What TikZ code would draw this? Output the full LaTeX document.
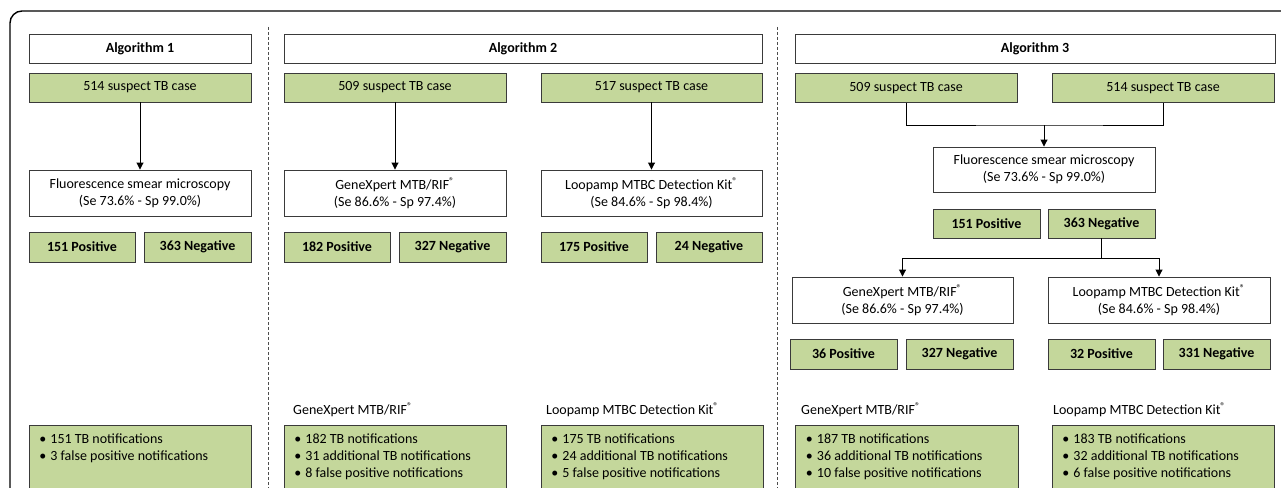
\documentclass[tikz,border=0pt]{standalone}
\usepackage{fontspec}
\setmainfont{Carlito}
\usetikzlibrary{arrows.meta}

\definecolor{boxgreen}{HTML}{C4D79B}
\definecolor{boxline}{HTML}{3A3A3A}
\newcommand{\regmark}{\textsuperscript{®}}
\newcommand{\bul}{\makebox[11pt][l]{•}}
\newcommand{\resultlist}[1]{\parbox[t][70pt][t]{202pt}{#1}}

\begin{document}
\begin{tikzpicture}[x=1pt, y=-1pt, font=\fontsize{14}{17}\selectfont]
    \tikzstyle{title box} = [rectangle, draw=boxline, line width=0.9pt, fill=white, minimum height=29pt, inner sep=0pt, font=\fontsize{14}{17}\selectfont\bfseries]
    \tikzstyle{case box} = [title box, fill=boxgreen, font=\fontsize{14}{17}\selectfont]
    \tikzstyle{test box} = [title box, minimum height=46pt, align=center, font=\fontsize{14}{17}\selectfont]
    \tikzstyle{count box} = [title box, fill=boxgreen, minimum height=30pt]
    \tikzstyle{result box} = [rectangle, draw=boxline, line width=0.9pt, fill=boxgreen, anchor=north west, inner xsep=10pt, inner ysep=8pt, align=left]
    \tikzstyle{list label} = [inner sep=0pt, anchor=base west]
    \tikzstyle{plain line} = [draw=black, line width=0.9pt]
    \tikzstyle{arrow line} = [plain line, -{Triangle[length=7pt,width=7pt]}]
    \tikzstyle{separator} = [draw=black!70, line width=0.9pt, dash pattern=on 3pt off 2pt]
\useasboundingbox (0,0) rectangle (1281,487);
\clip (0,0) rectangle (1281,487);
\draw[line width=1.4pt, rounded corners=12pt] (10,520) -- (10,11) -- (1320,11);
\draw[separator] (268,27) -- (268,500);
\draw[separator] (777,27) -- (777,500);
% Algorithm 1
\node[title box, minimum width=222pt] (title1) at (140,48.5) {Algorithm 1};
\node[case box, minimum width=222pt] (case1) at (140,87.5) {514 suspect TB case};
\node[test box, minimum width=222pt] (test1) at (140,193) {Fluorescence smear microscopy\\(Se 73.6\% - Sp 99.0\%)};
\node[count box, minimum width=106pt] (pos1) at (82,247) {151 Positive};
\node[count box, minimum width=107pt] (neg1) at (197.5,247) {363 Negative};
\node[result box] (res1) at (29,425) {\resultlist{\bul 151 TB notifications\\\bul 3 false positive notifications}};
\draw[arrow line] (case1) -- (test1);
% Algorithm 2
\node[title box, minimum width=478pt] (title2) at (523,48.5) {Algorithm 2};
\node[case box, minimum width=222pt] (case2a) at (395,87.5) {509 suspect TB case};
\node[case box, minimum width=221pt] (case2b) at (651.5,87.5) {517 suspect TB case};
\node[test box, minimum width=222pt] (test2a) at (395,193) {GeneXpert MTB/RIF\regmark\\(Se 86.6\% - Sp 97.4\%)};
\node[test box, minimum width=221pt] (test2b) at (651.5,193) {Loopamp MTBC Detection Kit\regmark\\(Se 84.6\% - Sp 98.4\%)};
\node[count box, minimum width=106pt] (pos2a) at (337,247) {182 Positive};
\node[count box, minimum width=107pt] (neg2a) at (452.5,247) {327 Negative};
\node[count box, minimum width=106pt] (pos2b) at (594,247) {175 Positive};
\node[count box, minimum width=106pt] (neg2b) at (709,247) {24 Negative};
\node[list label] (lab2a) at (293,414.5) {GeneXpert MTB/RIF\regmark};
\node[list label] (lab2b) at (546,414.5) {Loopamp MTBC Detection Kit\regmark};
\node[result box] (res2a) at (284,425) {\resultlist{\bul 182 TB notifications\\\bul 31 additional TB notifications\\\bul 8 false positive notifications}};
\node[result box] (res2b) at (541,425) {\resultlist{\bul 175 TB notifications\\\bul 24 additional TB notifications\\\bul 5 false positive notifications}};
\draw[arrow line] (case2a) -- (test2a);
\draw[arrow line] (case2b) -- (test2b);
% Algorithm 3
\node[title box, minimum width=480pt] (title3) at (1035,48.5) {Algorithm 3};
\node[case box, minimum width=222pt] (case3a) at (906,88) {509 suspect TB case};
\node[case box, minimum width=222pt] (case3b) at (1163,88) {514 suspect TB case};
\node[test box, minimum width=222pt, minimum height=45pt] (test3) at (1044,169.5) {Fluorescence smear microscopy\\(Se 73.6\% - Sp 99.0\%)};
\node[count box, minimum width=107pt, minimum height=29pt] (pos3) at (986.5,223.5) {151 Positive};
\node[count box, minimum width=107pt, minimum height=29pt] (neg3) at (1101.5,223.5) {363 Negative};
\node[test box, minimum width=221pt] (test3a) at (902.5,300) {GeneXpert MTB/RIF\regmark\\(Se 86.6\% - Sp 97.4\%)};
\node[test box, minimum width=222pt] (test3b) at (1159,300) {Loopamp MTBC Detection Kit\regmark\\(Se 84.6\% - Sp 98.4\%)};
\node[count box, minimum width=107pt] (pos3a) at (843.5,354) {36 Positive};
\node[count box, minimum width=107pt] (neg3a) at (959.5,354) {327 Negative};
\node[count box, minimum width=107pt] (pos3b) at (1101.5,354) {32 Positive};
\node[count box, minimum width=107pt] (neg3b) at (1216.5,354) {331 Negative};
\node[list label] (lab3a) at (801,414.5) {GeneXpert MTB/RIF\regmark};
\node[list label] (lab3b) at (1053,414.5) {Loopamp MTBC Detection Kit\regmark};
\node[result box, minimum width=223pt] (res3a) at (795,425) {\resultlist{\bul 187 TB notifications\\\bul 36 additional TB notifications\\\bul 10 false positive notifications}};
\node[result box, minimum width=221pt] (res3b) at (1052,425) {\resultlist{\bul 183 TB notifications\\\bul 32 additional TB notifications\\\bul 6 false positive notifications}};
\coordinate (join3) at (1044,125);
\coordinate (split3) at (1101.5,258);
\draw[plain line] (case3a.south) |- (join3) -| (case3b.south);
\draw[arrow line] (join3) -- (test3);
\draw[plain line] (neg3) -- (split3);
\draw[arrow line] (split3) -| (test3a.north);
\draw[arrow line] (split3) -| (test3b.north);
\end{tikzpicture}
\end{document}
